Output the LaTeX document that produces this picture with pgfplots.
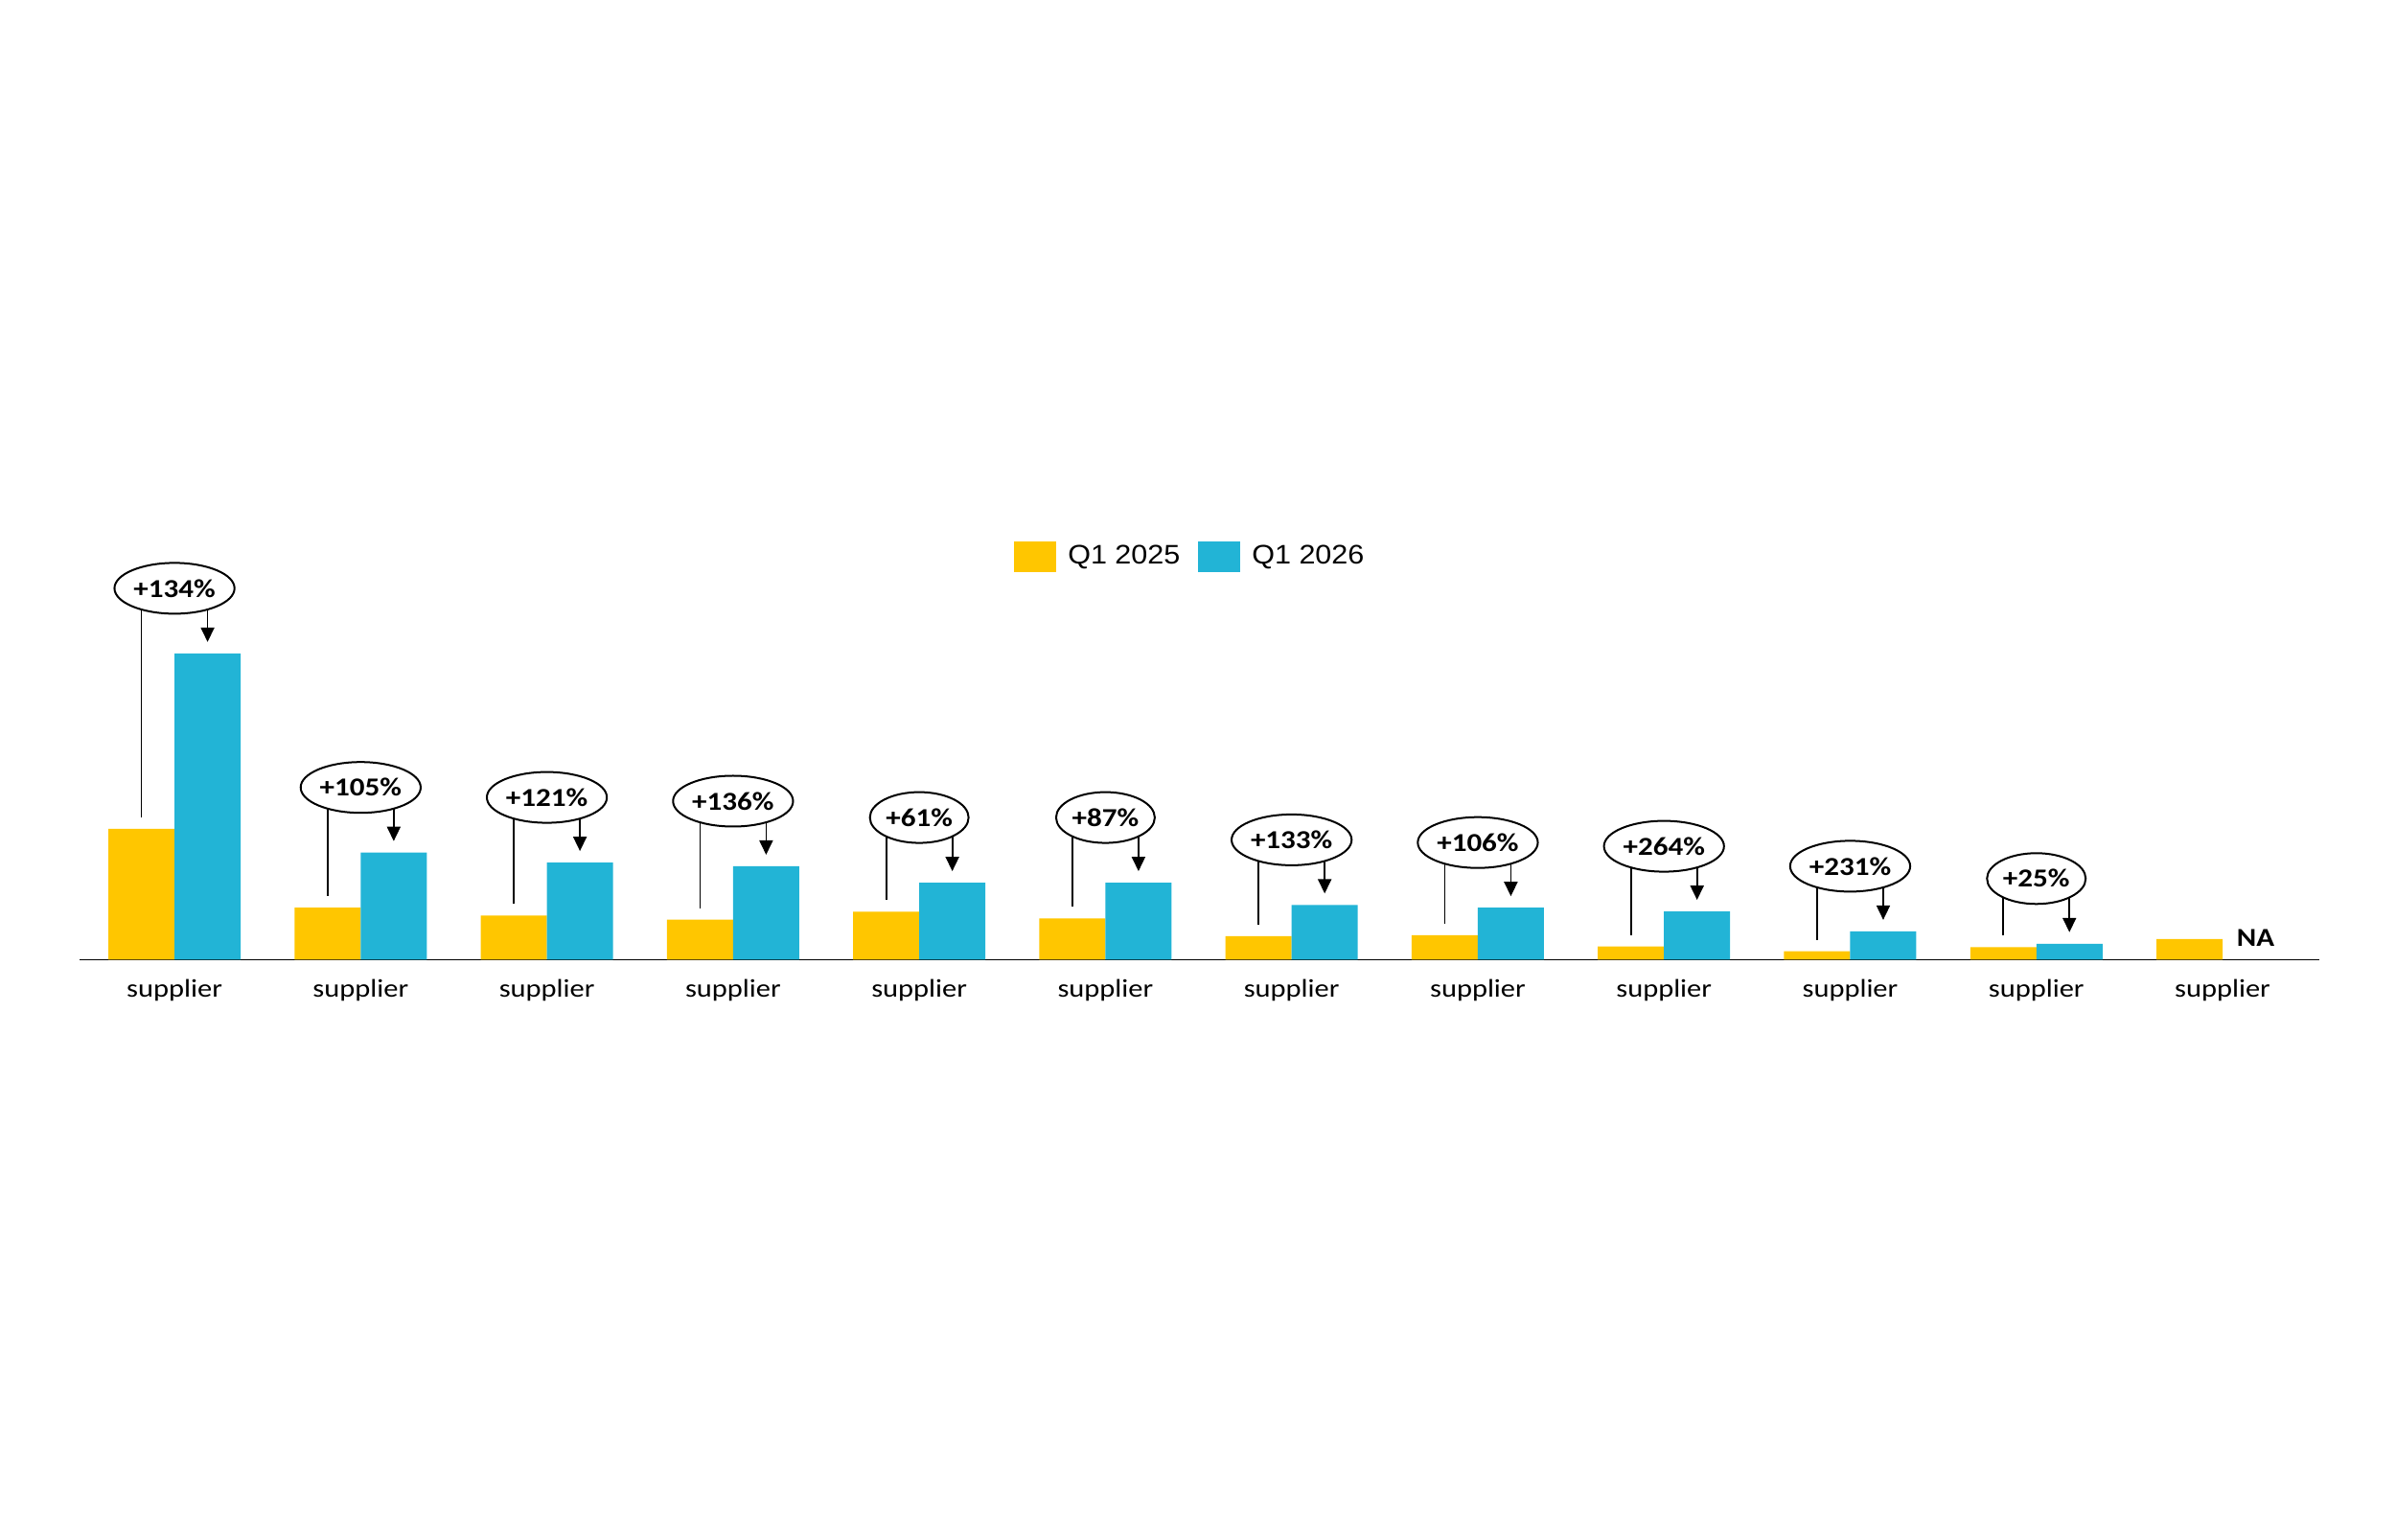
\documentclass[border=0pt]{standalone}
\usepackage{pgfplots}
\pgfplotsset{compat=1.18}
\usepackage{fontspec}
\setmainfont{Carlito}[FakeStretch=1.15]
\newfontfamily\legendfont{Liberation Sans}[FakeStretch=1.09]
\usetikzlibrary{arrows.meta,shapes.geometric}
\definecolor{cyellow}{RGB}{255,198,0}
\definecolor{cblue}{RGB}{34,180,214}

\newcommand{\ann}[4]{%
  \draw[line width=0.7pt] ([xshift=-13.8pt,yshift=27.2pt]axis cs:#1,#3) -- ([xshift=-13.8pt,yshift=4.8pt]axis cs:#1,#2);
  \draw[line width=0.7pt,-{Triangle[width=5.6pt,length=6pt]}] ([xshift=13.8pt,yshift=27.2pt]axis cs:#1,#3) -- ([xshift=13.8pt,yshift=4.8pt]axis cs:#1,#3);
  \node[ellipse,draw,fill=white,line width=0.8pt,inner xsep=0.65pt,inner ysep=0pt,minimum height=21.2pt,font=\fontsize{10.8}{12}\selectfont\bfseries] at ([yshift=27.2pt]axis cs:#1,#3) {#4};
}

\begin{document}
\begin{tikzpicture}
\useasboundingbox (0,0) rectangle (1000pt,642.4pt);
\begin{axis}[
  at={(33.2pt,241.8pt)}, anchor=south west,
  scale only axis,
  width=934.8pt, height=160pt,
  xmin=-0.51, xmax=11.52,
  ymin=0, ymax=400,
  ybar=0pt, bar width=27.6pt,
  clip=false,
  hide y axis,
  axis x line*=bottom,
  x axis line style={line width=0.7pt, black},
  xtick={0,...,11},
  xticklabels={supplier,supplier,supplier,supplier,supplier,supplier,supplier,supplier,supplier,supplier,supplier,supplier},
  major tick length=0pt,
  xticklabel style={anchor=base, yshift=-15.6pt, font=\fontsize{10.6}{12}\selectfont},
  legend style={at={(0.4965,1.051)}, anchor=center, draw=none, fill=none, legend columns=2,
    font=\legendfont\fontsize{11.2}{13}\selectfont,
    /tikz/every odd column/.append style={column sep=2.8pt},
    /tikz/every even column/.append style={column sep=5.6pt}},
  legend image code/.code={\fill[#1] (0pt,-6.4pt) rectangle (17.6pt,6.4pt);},
]
\addplot[fill=cyellow, draw=none] coordinates {
  (0,136.5) (1,54.3) (2,46.2) (3,41.8) (4,50.2) (5,43.0) (6,24.6) (7,25.6) (8,13.9) (9,8.9) (10,13.2) (11,21.7)};
\addplot[fill=cblue, draw=none] coordinates {
  (0,319.6) (1,111.8) (2,101.4) (3,97.5) (4,80.4) (5,80.4) (6,57.1) (7,54.3) (8,50.4) (9,29.6) (10,16.7)};
\legend{Q1 2025, Q1 2026}
\ann{0}{136.5}{319.6}{+134\%}
\ann{1}{54.3}{111.8}{+105\%}
\ann{2}{46.2}{101.4}{+121\%}
\ann{3}{41.8}{97.5}{+136\%}
\ann{4}{50.2}{80.4}{+61\%}
\ann{5}{43.0}{80.4}{+87\%}
\ann{6}{24.6}{57.1}{+133\%}
\ann{7}{25.6}{54.3}{+106\%}
\ann{8}{13.9}{50.4}{+264\%}
\ann{9}{8.9}{29.6}{+231\%}
\ann{10}{13.2}{16.7}{+25\%}
\node[anchor=base, font=\fontsize{10.8}{12}\selectfont\bfseries] at ([xshift=13.8pt,yshift=5.6pt]axis cs:11,0) {NA};
\end{axis}
\end{tikzpicture}
\end{document}
